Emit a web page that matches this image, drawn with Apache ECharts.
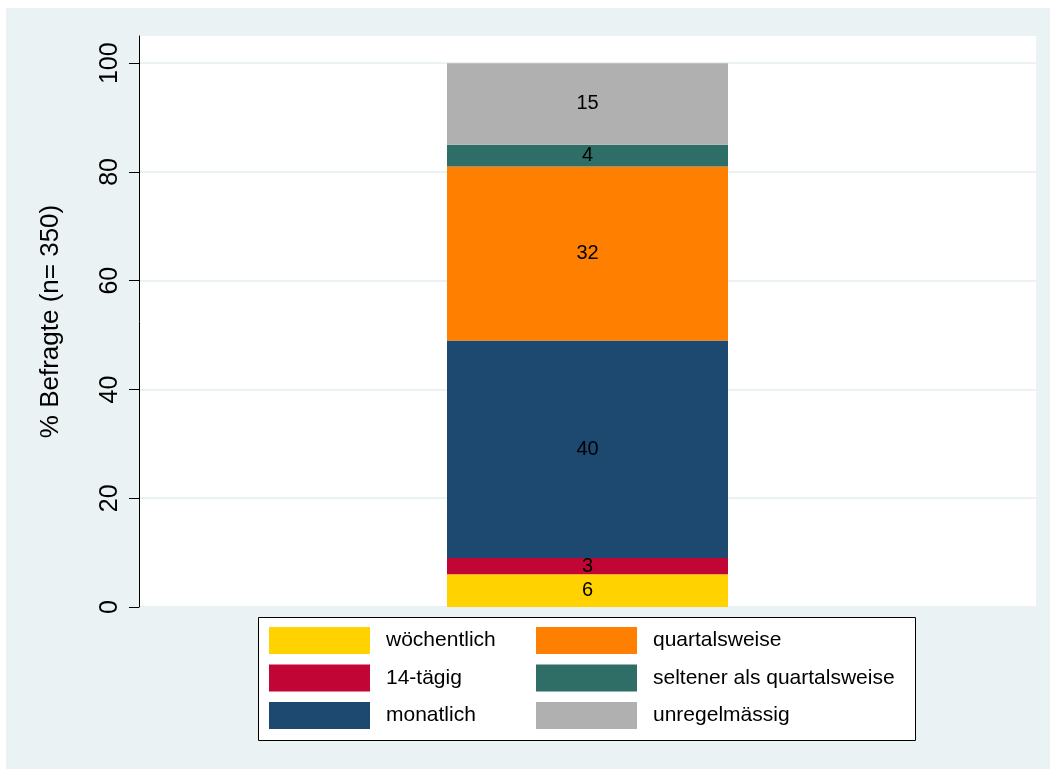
<!DOCTYPE html>
<html>
<head>
<meta charset="utf-8">
<script src="https://cdn.jsdelivr.net/npm/echarts@6/dist/echarts.min.js"></script>
<style>
  html, body { margin: 0; padding: 0; background: #ffffff; }
  #chart { width: 1050px; height: 769px; }
</style>
</head>
<body>
<div id="chart"></div>
<script>
// Frequency categories, bottom to top in the stacked bar
const categories = ['wöchentlich', '14-tägig', 'monatlich', 'quartalsweise', 'seltener als quartalsweise', 'unregelmässig'];
// Share of respondents in percent
const shares = [6, 3, 40, 32, 4, 15];
const colors = ['#ffd200', '#c10534', '#1d4870', '#ff7f00', '#2e6e66', '#b0b0b0'];
const yTicks = [0, 20, 40, 60, 80, 100];
const axisTitle = '% Befragte (n= 350)';

const FONT = '"Liberation Sans", Arial, Helvetica, sans-serif';
const chart = echarts.init(document.getElementById('chart'), null, { renderer: 'canvas' });

const series = categories.map((name, i) => ({
  name: name,
  type: 'bar',
  stack: 'total',
  barWidth: 281,
  data: [shares[i]],
  itemStyle: { color: colors[i] },
  label: {
    show: true,
    position: 'inside',
    color: '#000',
    fontFamily: FONT,
    fontSize: 20,
    formatter: '{c}'
  },
  emphasis: { disabled: true }
}));

const legendBase = {
  orient: 'vertical',
  itemWidth: 101,
  itemHeight: 27,
  itemGap: 10.5,
  padding: 0,
  icon: 'rect',
  selectedMode: false,
  z: 10,
  textStyle: { fontFamily: FONT, fontSize: 21, color: '#000', padding: [4, 0, 0, 11] }
};

chart.setOption({
  animation: false,
  backgroundColor: '#ffffff',
  graphic: [
    { type: 'rect', z: -100, shape: { x: 6, y: 8, width: 1044, height: 761 }, style: { fill: '#eaf2f3' }, silent: true },
    { type: 'rect', z: 1, shape: { x: 258.5, y: 617.5, width: 657, height: 123 }, style: { fill: '#ffffff', stroke: '#000', lineWidth: 1 }, silent: true }
  ],
  grid: {
    left: 139, right: 14, top: 36, bottom: 162,
    show: true, backgroundColor: '#ffffff', borderWidth: 0
  },
  legend: [
    Object.assign({}, legendBase, { data: categories.slice(0, 3), left: 269, top: 627 }),
    Object.assign({}, legendBase, { data: categories.slice(3), left: 536, top: 627 })
  ],
  xAxis: {
    type: 'category',
    data: [''],
    axisLine: { show: false },
    axisTick: { show: false },
    axisLabel: { show: false },
    splitLine: { show: false }
  },
  yAxis: {
    type: 'value',
    min: 0,
    max: 105,
    interval: 20,
    name: axisTitle,
    nameLocation: 'middle',
    nameRotate: 90,
    nameGap: 75,
    nameTextStyle: { fontFamily: FONT, fontSize: 26, color: '#000' },
    axisLine: { show: true, lineStyle: { color: '#000', width: 1 } },
    axisTick: { show: true, length: 10, lineStyle: { color: '#000', width: 1 }, customValues: yTicks },
    axisLabel: {
      rotate: 90,
      margin: 16,
      fontFamily: FONT,
      fontSize: 25,
      color: '#000',
      customValues: yTicks
    },
    splitLine: { show: true, lineStyle: { color: '#eaf2f3', width: 2 } }
  },
  series: series
});
</script>
</body>
</html>
